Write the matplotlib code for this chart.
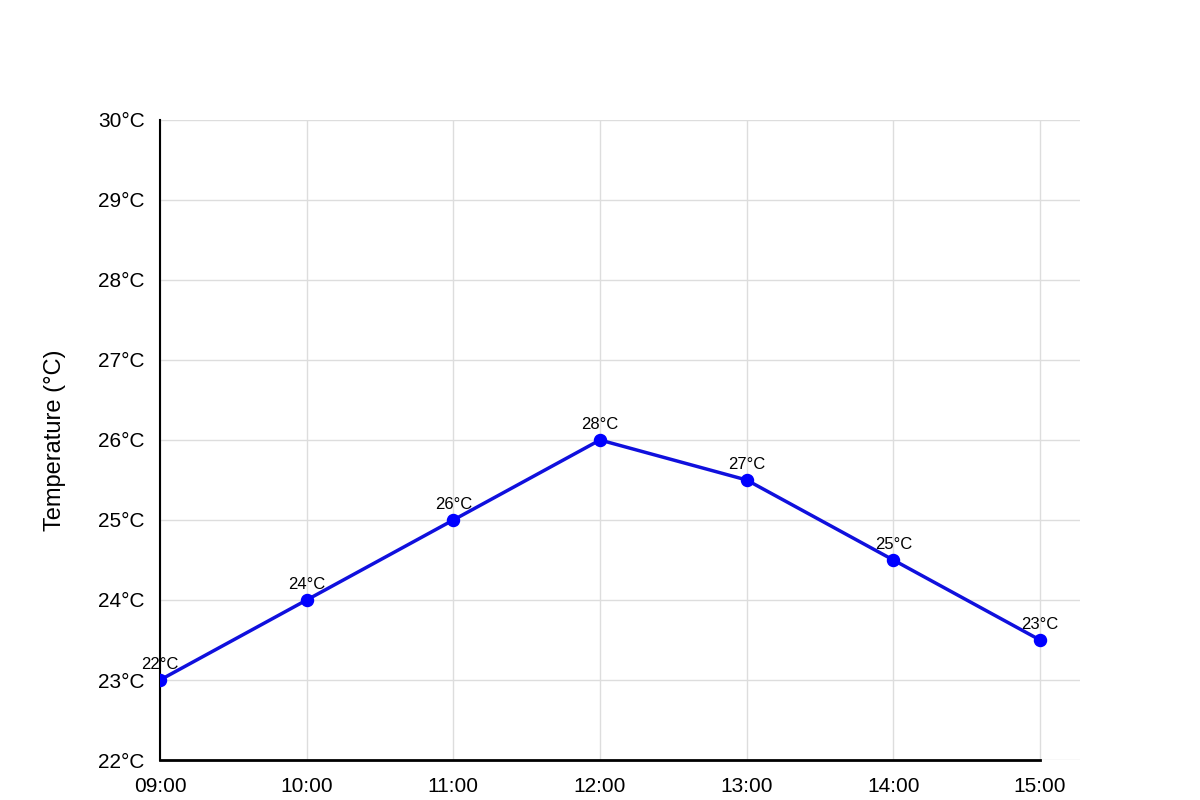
import matplotlib.pyplot as plt

# data
times = ['09:00', '10:00', '11:00', '12:00', '13:00', '14:00', '15:00']
temps = [22, 24, 26, 28, 27, 25, 23]
# tick labels shown on the y axis (as drawn in the original chart)
ytick_labels = ['22°C', '23°C', '24°C', '25°C', '26°C', '27°C', '28°C', '29°C', '30°C']
ytick_values = [20, 22, 24, 26, 28, 30, 32, 34, 36]

plt.rcParams['font.family'] = ['Liberation Sans', 'DejaVu Sans']

fig = plt.figure(figsize=(12, 8), dpi=100)
ax = fig.add_axes([160 / 1200, 40 / 800, 920 / 1200, 640 / 800])

x = list(range(len(times)))
ax.plot(x, temps, color='#1010dd', linewidth=2.5, zorder=3)
ax.scatter(x, temps, color='#0000ff', s=75, zorder=4)
for xi, t in zip(x, temps):
    ax.annotate(f'{t}°C', (xi, t), xytext=(0, 6), textcoords='offset points',
                ha='center', va='bottom', fontsize=12, color='black')

ax.set_xlim(0, 6 + 40 / (880 / 6))
ax.set_ylim(20, 36)
ax.set_xticks(x)
ax.set_xticklabels(times)
ax.set_yticks(ytick_values)
ax.set_yticklabels(ytick_labels)
ax.tick_params(length=0, labelsize=15)
ax.tick_params(axis='y', pad=11)
ax.tick_params(axis='x', pad=12)
ax.set_ylabel('Temperature (°C)', fontsize=17, labelpad=23)

ax.grid(color='#dddddd', linewidth=1)
ax.set_axisbelow(True)
for s in ['top', 'right']:
    ax.spines[s].set_visible(False)
ax.spines['left'].set_linewidth(1.5)
ax.spines['bottom'].set_linewidth(2)
ax.spines['bottom'].set_bounds(0, 6)

fig.savefig('out.png', dpi=100)
